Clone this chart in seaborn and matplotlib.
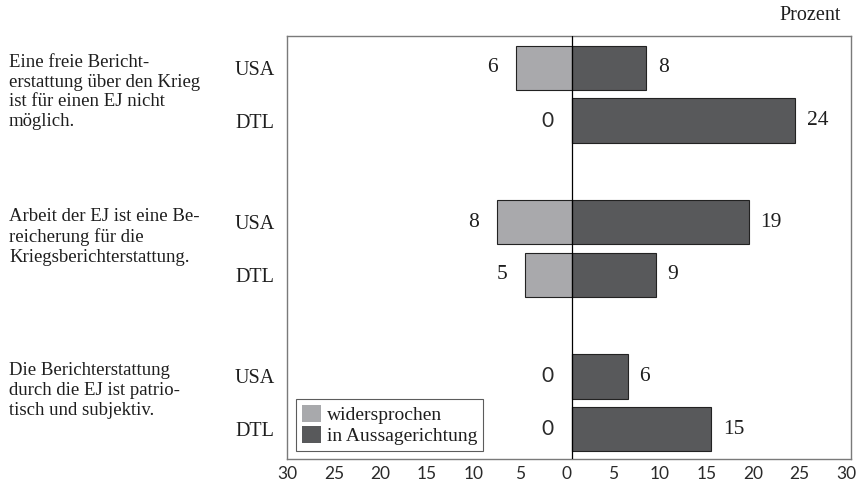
import matplotlib
matplotlib.use("Agg")
import matplotlib.pyplot as plt
import matplotlib.transforms as mtrans
from matplotlib.patches import Patch
import seaborn as sns
import pandas as pd
import numpy as np

# ---- data ----
statements = [
    "Eine freie Bericht-\nerstattung über den Krieg\nist für einen EJ nicht\nmöglich.",
    "Arbeit der EJ ist eine Be-\nreicherung für die\nKriegsberichterstattung.",
    "Die Berichterstattung\ndurch die EJ ist patrio-\ntisch und subjektiv.",
]
countries = ["USA", "DTL"]
series_names = ["widersprochen", "in Aussagerichtung"]
# values per statement, per country
widersprochen = [[6, 0], [8, 5], [0, 0]]
aussagerichtung = [[8, 24], [19, 9], [6, 15]]
tick_labels = ["30", "25", "20", "15", "10", "5", "0", "5", "10", "15", "20", "25", "30"]

# ---- layout ----
GROUP_PITCH = 2.92
rows = []
for g in range(len(statements)):
    for k, c in enumerate(countries):
        pos = g * GROUP_PITCH + k
        rows.append(dict(pos=pos, country=c, series=series_names[0], value=-widersprochen[g][k], label=widersprochen[g][k]))
        rows.append(dict(pos=pos, country=c, series=series_names[1], value=aussagerichtung[g][k], label=aussagerichtung[g][k]))
df = pd.DataFrame(rows)

sns.set_theme(style="white")
plt.rcParams["font.family"] = ["Liberation Serif", "DejaVu Serif"]
SANS = ["Lato", "DejaVu Sans"]
TXT = "#1e1e1e"

W, H = 867, 484
L, R, T, B = 287, 851, 36, 459
fig = plt.figure(figsize=(W / 100, H / 100), dpi=100)
ax = fig.add_axes([L / W, 1 - B / H, (R - L) / W, (B - T) / H])

colors = {series_names[0]: "#a8a9ac", series_names[1]: "#58595b"}
sns.barplot(data=df, x="value", y="pos", hue="series", orient="y", native_scale=True,
            dodge=False, palette=colors, width=0.845, edgecolor="#222222", linewidth=0.8,
            ax=ax, legend=False)

ax.set_xlim(-30.59, 29.41)
ax.set_ylim(7.405, -0.606)
ax.axvline(0, color="black", lw=0.9, zorder=5)

ax.set_xticks(np.arange(-30, 31, 5))
ax.set_xticklabels(tick_labels, family=SANS, fontsize=12.5, color="#2a2a2a")
ax.tick_params(axis="x", length=0, pad=5)
shift = mtrans.ScaledTranslation(-5 / 100, 0, fig.dpi_scale_trans)
for lab in ax.get_xticklabels():
    lab.set_transform(lab.get_transform() + shift)

positions = sorted(df["pos"].unique())
ax.set_yticks(positions)
ax.set_yticklabels([countries[i % 2] for i in range(len(positions))], fontsize=14.5, color=TXT)
ax.tick_params(axis="y", length=0, pad=9)
ax.set_xlabel("")
ax.set_ylabel("")
for s in ax.spines.values():
    s.set_color("#7a7a7a")
    s.set_linewidth(1.0)

# value labels
px = 60.0 / (R - L)  # data units per pixel
for _, r in df.iterrows():
    v = r["value"]
    lab = r["label"]
    if r["series"] == series_names[0]:
        if lab == 0:
            ax.text(-18 * px, r["pos"], "0", ha="right", va="center", fontsize=15,
                    family=SANS, color="#2a2a2a")
        else:
            ax.text(v - 18 * px, r["pos"], str(lab), ha="right", va="center", fontsize=15.5, color=TXT)
    else:
        ax.text(v + 12 * px, r["pos"], str(lab), ha="left", va="center", fontsize=15.5, color=TXT)

# statement texts
trans = mtrans.blended_transform_factory(fig.transFigure, ax.transData)
for g, s in enumerate(statements):
    ax.text(9 / W, g * GROUP_PITCH - 0.27, s, transform=trans, ha="left", va="top",
            fontsize=13.5, color=TXT, linespacing=1.22)

fig.text(841 / W, 1 - 15 / H, "Prozent", ha="right", va="center", fontsize=14.5, color=TXT)

handles = [Patch(facecolor=colors[n], edgecolor="none", label=n) for n in series_names]
leg = ax.legend(handles=handles, loc="lower left", bbox_to_anchor=(9 / (R - L), 8 / (B - T)),
                frameon=True, fancybox=False, fontsize=14, handlelength=1.0, handleheight=1.0,
                handletextpad=0.3, borderpad=0.3, labelspacing=0.08, borderaxespad=0)
leg.get_frame().set_edgecolor("#333333")
leg.get_frame().set_linewidth(0.8)
for t in leg.get_texts():
    t.set_color(TXT)

fig.savefig("out.png", dpi=100)
